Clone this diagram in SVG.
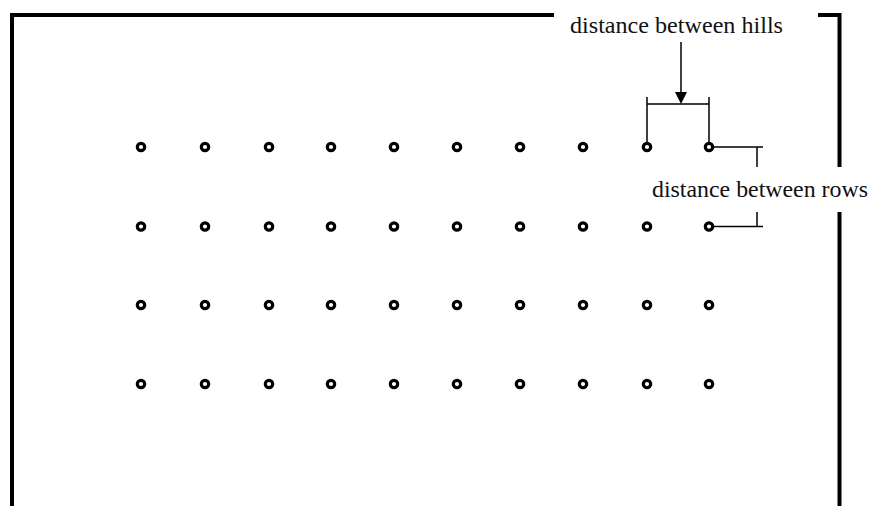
<svg xmlns="http://www.w3.org/2000/svg" width="872" height="506" viewBox="0 0 872 506">
  <style>
    .frame { fill: none; stroke: #000; stroke-width: 4; stroke-linecap: butt; }
    .hill { fill: #fff; stroke: #000; stroke-width: 3.2; }
    .dim { fill: none; stroke: #000; stroke-width: 1.5; }
    .label { font-family: "Liberation Serif", "Times New Roman", serif; font-size: 23.5px; fill: #111; }
  </style>
  <defs>
    <circle id="hillMark" r="3.7" class="hill"/>
  </defs>
  <rect width="872" height="506" fill="#fff"/>

  <!-- field boundary -->
  <g id="frame">
    <path class="frame" d="M12,506 V15 H554"/>
    <path class="frame" d="M818,15 H839.5 V167"/>
    <path class="frame" d="M839.5,212 V506"/>
  </g>

  <!-- connectors: dimension lines -->
  <g id="connectors">
    <path class="dim" d="M647,97 V143 M709,97 V143 M647,104 H709"/>
    <path class="dim" d="M681,42 V93"/>
    <polygon points="675,92 687,92 681,104" fill="#000"/>
    <path class="dim" d="M713,147 H763 M757,147 V167"/>
    <path class="dim" d="M713,226.5 H763 M757,212 V226.5"/>
  </g>

  <!-- hills: 4 rows x 10 columns -->
  <g id="hills">
    <g id="row1">
      <use href="#hillMark" x="141" y="147"/><use href="#hillMark" x="205" y="147"/><use href="#hillMark" x="269" y="147"/><use href="#hillMark" x="331" y="147"/><use href="#hillMark" x="394" y="147"/><use href="#hillMark" x="457" y="147"/><use href="#hillMark" x="520" y="147"/><use href="#hillMark" x="583" y="147"/><use href="#hillMark" x="647" y="147"/><use href="#hillMark" x="709" y="147"/>
    </g>
    <g id="row2">
      <use href="#hillMark" x="141" y="226.5"/><use href="#hillMark" x="205" y="226.5"/><use href="#hillMark" x="269" y="226.5"/><use href="#hillMark" x="331" y="226.5"/><use href="#hillMark" x="394" y="226.5"/><use href="#hillMark" x="457" y="226.5"/><use href="#hillMark" x="520" y="226.5"/><use href="#hillMark" x="583" y="226.5"/><use href="#hillMark" x="647" y="226.5"/><use href="#hillMark" x="709" y="226.5"/>
    </g>
    <g id="row3">
      <use href="#hillMark" x="141" y="305"/><use href="#hillMark" x="205" y="305"/><use href="#hillMark" x="269" y="305"/><use href="#hillMark" x="331" y="305"/><use href="#hillMark" x="394" y="305"/><use href="#hillMark" x="457" y="305"/><use href="#hillMark" x="520" y="305"/><use href="#hillMark" x="583" y="305"/><use href="#hillMark" x="647" y="305"/><use href="#hillMark" x="709" y="305"/>
    </g>
    <g id="row4">
      <use href="#hillMark" x="141" y="384"/><use href="#hillMark" x="205" y="384"/><use href="#hillMark" x="269" y="384"/><use href="#hillMark" x="331" y="384"/><use href="#hillMark" x="394" y="384"/><use href="#hillMark" x="457" y="384"/><use href="#hillMark" x="520" y="384"/><use href="#hillMark" x="583" y="384"/><use href="#hillMark" x="647" y="384"/><use href="#hillMark" x="709" y="384"/>
    </g>
  </g>

  <!-- labels -->
  <g id="label-hills">
    <text class="label" x="570" y="33" textLength="213" lengthAdjust="spacingAndGlyphs">distance between hills</text>
  </g>
  <g id="label-rows">
    <text class="label" x="652" y="197" textLength="216" lengthAdjust="spacingAndGlyphs">distance between rows</text>
  </g>
</svg>
